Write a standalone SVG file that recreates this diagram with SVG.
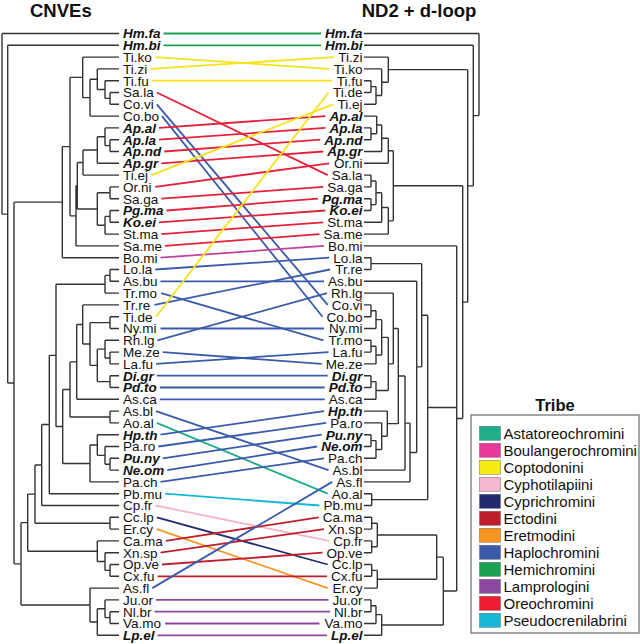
<svg xmlns="http://www.w3.org/2000/svg" width="640" height="644" viewBox="0 0 640 644">
<style>
.t{font-family:"Liberation Sans",Arial,sans-serif;font-size:13.5px;fill:#111}
.b{font-weight:bold;font-style:italic}
.r{text-anchor:end}
.tree{fill:none;stroke:#333;stroke-width:1.4}
.c line{stroke-width:1.8}
.hd{font-family:"Liberation Sans",Arial,sans-serif;font-weight:bold;fill:#111}
.lg{font-family:"Liberation Sans",Arial,sans-serif;font-size:15px;fill:#111}
.sw{stroke:#555;stroke-width:0.4}
</style>
<rect width="640" height="644" fill="#fff"/>
<text class="hd" x="30" y="16.8" font-size="18.5">CNVEs</text>
<text class="hd" x="361.7" y="16.8" font-size="18.5">ND2 + d-loop</text>

<g id="left-tree">
<path class="tree" d="M2 33.5V214.15M2 33.5H119M2 214.15H7.7
M7.7 45.3V383M7.7 45.3H119M7.7 383H14
M14 202.15V563.86M14 202.15H62.3M14 563.86H21
M62.3 146.6V257.7M62.3 146.6H70M62.3 257.7H119
M70 77.38V215.85M70 77.38H82.7M70 215.85H76
M82.7 57.1V97.66M82.7 57.1H119M82.7 97.66H90
M90 79.23V116.1M90 79.23H97.3M90 116.1H119
M97.3 68.9V89.55M97.3 68.9H119M97.3 89.55H105
M105 80.7V98.4M105 80.7H119M105 98.4H110
M110 92.5V104.3M110 92.5H119M110 104.3H119
M76 185.8V245.9M76 185.8H77.3M76 245.9H119
M77.3 162.56V209.03M77.3 162.56H83M77.3 209.03H97.3
M83 150.03V175.1M83 150.03H97.3M83 175.1H119
M97.3 136.75V163.3M97.3 136.75H105M97.3 163.3H119
M105 127.9V145.6M105 127.9H119M105 145.6H110
M110 139.7V151.5M110 139.7H119M110 151.5H119
M97.3 192.8V225.25M97.3 192.8H110M97.3 225.25H105
M110 186.9V198.7M110 186.9H119M110 198.7H119
M105 216.4V234.1M105 216.4H110M105 234.1H119
M110 210.5V222.3M110 210.5H119M110 222.3H119
M21 522.66V605.06M21 522.66H27.7M21 605.06H90
M27.7 494.1V551.23M27.7 494.1H35M27.7 551.23H97.3
M35 465.01V523.2M35 465.01H41.7M35 523.2H110
M41.7 424.53V505.5M41.7 424.53H49.3M41.7 505.5H119
M49.3 355.35V493.7M49.3 355.35H56M49.3 493.7H119
M56 284.25V426.45M56 284.25H105M56 426.45H62.7
M105 275.4V293.1M105 275.4H110M105 293.1H119
M110 269.5V281.3M110 269.5H119M110 281.3H119
M62.7 389.44V463.46M62.7 389.44H70M62.7 463.46H90
M70 361.88V417M70 361.88H76.7M70 417H110
M110 411.1V422.9M110 411.1H119M110 422.9H119
M76.7 324.45V399.3M76.7 324.45H82.7M76.7 399.3H119
M82.7 304.9V343.99M82.7 304.9H119M82.7 343.99H90
M90 322.6V365.38M90 322.6H110M90 365.38H97.3
M110 316.7V328.5M110 316.7H119M110 328.5H119
M97.3 349.15V381.6M97.3 349.15H105M97.3 381.6H110
M105 340.3V358M105 340.3H119M105 358H110
M110 352.1V363.9M110 352.1H119M110 363.9H119
M110 375.7V387.5M110 375.7H119M110 387.5H119
M90 445.03V481.9M90 445.03H97.3M90 481.9H119
M97.3 434.7V455.35M97.3 434.7H119M97.3 455.35H105
M105 446.5V464.2M105 446.5H119M105 464.2H110
M110 458.3V470.1M110 458.3H119M110 470.1H119
M110 517.3V529.1M110 517.3H119M110 529.1H119
M97.3 540.9V561.55M97.3 540.9H119M97.3 561.55H105
M105 552.7V570.4M105 552.7H119M105 570.4H110
M110 564.5V576.3M110 564.5H119M110 576.3H119
M90 588.1V622.03M90 588.1H119M90 622.03H97.3
M97.3 608.75V635.3M97.3 608.75H105M97.3 635.3H119
M105 599.9V617.6M105 599.9H119M105 617.6H110
M110 611.7V623.5M110 611.7H119M110 623.5H119"/>
</g>

<g id="right-tree">
<path class="tree" d="M479 33.5V115.6M479 33.5H364M479 115.6H473.3
M473.3 45.3V185.89M473.3 45.3H364M473.3 185.89H467.7
M467.7 69.64V302.14M467.7 69.64H388.3M467.7 302.14H462.7
M388.3 57.1V82.18M388.3 57.1H364M388.3 82.18H381.7
M381.7 68.9V95.45M381.7 68.9H364M381.7 95.45H376
M376 86.6V104.3M376 86.6H371M376 104.3H364
M371 80.7V92.5M371 80.7H364M371 92.5H364
M462.7 185.8V418.48M462.7 185.8H393.3M462.7 418.48H456.7
M393.3 150.76V220.83M393.3 150.76H388.3M393.3 220.83H388.3
M388.3 138.23V163.3M388.3 138.23H381.7M388.3 163.3H364
M381.7 124.95V151.5M381.7 124.95H376.7M381.7 151.5H364
M376.7 116.1V133.8M376.7 116.1H364M376.7 133.8H371
M371 127.9V139.7M371 127.9H364M371 139.7H364
M388.3 207.55V234.1M388.3 207.55H381.7M388.3 234.1H364
M381.7 192.8V222.3M381.7 192.8H376M381.7 222.3H364
M376 181V204.6M376 181H371M376 204.6H371
M371 175.1V186.9M371 175.1H364M371 186.9H364
M371 198.7V210.5M371 198.7H364M371 210.5H364
M456.7 245.9V591.05M456.7 245.9H364M456.7 407.43H427.7M456.7 591.05H443.3
M427.7 315.25V499.6M427.7 315.25H421.7M427.7 499.6H371.7
M371.7 493.7V505.5M371.7 493.7H364M371.7 505.5H364
M421.7 263.6V366.9M421.7 263.6H371M421.7 366.9H416.7
M371 257.7V269.5M371 257.7H364M371 269.5H364
M416.7 281.3V452.49M416.7 281.3H364M416.7 452.49H410
M410 423.09V481.9M410 423.09H405M410 481.9H364
M405 376.07V470.1M405 376.07H398.3M405 470.1H364
M398.3 328.5V423.64M398.3 328.5H393.3M398.3 423.64H387.3
M393.3 293.1V363.9M393.3 293.1H364M393.3 363.9H388.3
M388.3 337.35V390.45M388.3 337.35H381.7M388.3 390.45H376
M381.7 319.65V355.05M381.7 319.65H376M381.7 355.05H376
M376 310.8V328.5M376 310.8H371M376 328.5H364
M371 304.9V316.7M371 304.9H364M371 316.7H364
M376 346.2V363.9M376 346.2H371M376 363.9H364
M371 340.3V352.1M371 340.3H364M371 352.1H364
M376 381.6V399.3M376 381.6H371M376 399.3H364
M371 375.7V387.5M371 375.7H364M371 387.5H364
M387.3 411.1V436.18M387.3 411.1H364M387.3 436.18H381.7
M381.7 422.9V449.45M381.7 422.9H364M381.7 449.45H376
M376 440.6V458.3M376 440.6H371M376 458.3H364
M371 434.7V446.5M371 434.7H364M371 446.5H364
M443.3 557.13V624.98M443.3 557.13H436.7M443.3 624.98H381.7
M436.7 535V579.25M436.7 535H377.3M436.7 579.25H377.3
M377.3 523.2V546.8M377.3 523.2H371.7M377.3 546.8H371.7
M371.7 517.3V529.1M371.7 517.3H364M371.7 529.1H364
M371.7 540.9V552.7M371.7 540.9H364M371.7 552.7H364
M377.3 570.4V588.1M377.3 570.4H371.7M377.3 588.1H364
M371.7 564.5V576.3M371.7 564.5H364M371.7 576.3H364
M381.7 614.65V635.3M381.7 614.65H376M381.7 635.3H364
M376 605.8V623.5M376 605.8H371M376 623.5H364
M371 599.9V611.7M371 599.9H364M371 611.7H364"/>
</g>

<g id="connectors" class="c">
<line x1="163.5" y1="33.5" x2="321" y2="33.5" stroke="#1aa152"/>
<line x1="163.5" y1="45.3" x2="321" y2="45.3" stroke="#1aa152"/>
<line x1="155.3" y1="57.1" x2="329.2" y2="68.9" stroke="#f5e31b"/>
<line x1="150.7" y1="68.9" x2="333.8" y2="57.1" stroke="#f5e31b"/>
<line x1="152.3" y1="80.7" x2="332.2" y2="80.7" stroke="#f5e31b"/>
<line x1="156.8" y1="92.5" x2="327.7" y2="175.1" stroke="#e3213a"/>
<line x1="156.8" y1="104.3" x2="327.7" y2="304.9" stroke="#3a5ba9"/>
<line x1="162" y1="116.1" x2="322.5" y2="316.7" stroke="#3a5ba9"/>
<line x1="159" y1="127.9" x2="325.5" y2="116.1" stroke="#e3213a"/>
<line x1="159" y1="139.7" x2="325.5" y2="127.9" stroke="#e3213a"/>
<line x1="164.2" y1="151.5" x2="320.3" y2="139.7" stroke="#e3213a"/>
<line x1="161.2" y1="163.3" x2="323.3" y2="151.5" stroke="#e3213a"/>
<line x1="151.5" y1="175.1" x2="333" y2="104.3" stroke="#f5e31b"/>
<line x1="155.3" y1="186.9" x2="329.2" y2="163.3" stroke="#e3213a"/>
<line x1="161.3" y1="198.7" x2="323.2" y2="186.9" stroke="#e3213a"/>
<line x1="166.5" y1="210.5" x2="318" y2="198.7" stroke="#e3213a"/>
<line x1="159" y1="222.3" x2="325.5" y2="210.5" stroke="#e3213a"/>
<line x1="161.3" y1="234.1" x2="323.2" y2="222.3" stroke="#e3213a"/>
<line x1="165" y1="245.9" x2="319.5" y2="234.1" stroke="#e3213a"/>
<line x1="160.5" y1="257.7" x2="324" y2="245.9" stroke="#c2439f"/>
<line x1="155.3" y1="269.5" x2="329.2" y2="257.7" stroke="#3a5ba9"/>
<line x1="160.5" y1="281.3" x2="324" y2="281.3" stroke="#3a5ba9"/>
<line x1="161.2" y1="293.1" x2="323.3" y2="340.3" stroke="#3a5ba9"/>
<line x1="154.5" y1="304.9" x2="330" y2="269.5" stroke="#3a5ba9"/>
<line x1="156" y1="316.7" x2="328.5" y2="92.5" stroke="#f5e31b"/>
<line x1="160.5" y1="328.5" x2="324" y2="328.5" stroke="#3a5ba9"/>
<line x1="157.5" y1="340.3" x2="327" y2="293.1" stroke="#3a5ba9"/>
<line x1="162.8" y1="352.1" x2="321.7" y2="363.9" stroke="#3a5ba9"/>
<line x1="156" y1="363.9" x2="328.5" y2="352.1" stroke="#3a5ba9"/>
<line x1="156.8" y1="375.7" x2="327.7" y2="375.7" stroke="#3a5ba9"/>
<line x1="159.8" y1="387.5" x2="324.7" y2="387.5" stroke="#3a5ba9"/>
<line x1="159.8" y1="399.3" x2="324.7" y2="399.3" stroke="#3a5ba9"/>
<line x1="156" y1="411.1" x2="328.5" y2="470.1" stroke="#3a5ba9"/>
<line x1="156.8" y1="422.9" x2="327.7" y2="493.7" stroke="#1fae87"/>
<line x1="160.5" y1="434.7" x2="324" y2="411.1" stroke="#3a5ba9"/>
<line x1="158.3" y1="446.5" x2="326.2" y2="422.9" stroke="#3a5ba9"/>
<line x1="162.8" y1="458.3" x2="321.7" y2="434.7" stroke="#3a5ba9"/>
<line x1="167.3" y1="470.1" x2="317.2" y2="446.5" stroke="#3a5ba9"/>
<line x1="160.5" y1="481.9" x2="324" y2="458.3" stroke="#3a5ba9"/>
<line x1="165" y1="493.7" x2="319.5" y2="505.5" stroke="#15b8d6"/>
<line x1="155.3" y1="505.5" x2="329.2" y2="540.9" stroke="#f5b4cc"/>
<line x1="156.8" y1="517.3" x2="327.7" y2="564.5" stroke="#232b6e"/>
<line x1="156.8" y1="529.1" x2="327.7" y2="588.1" stroke="#f7961f"/>
<line x1="165.8" y1="540.9" x2="318.7" y2="517.3" stroke="#bf1e2d"/>
<line x1="160.5" y1="552.7" x2="324" y2="529.1" stroke="#bf1e2d"/>
<line x1="162" y1="564.5" x2="322.5" y2="552.7" stroke="#bf1e2d"/>
<line x1="157.5" y1="576.3" x2="327" y2="576.3" stroke="#bf1e2d"/>
<line x1="152.3" y1="588.1" x2="332.2" y2="481.9" stroke="#3a5ba9"/>
<line x1="156" y1="599.9" x2="328.5" y2="599.9" stroke="#8b48a0"/>
<line x1="154.5" y1="611.7" x2="330" y2="611.7" stroke="#8b48a0"/>
<line x1="165" y1="623.5" x2="319.5" y2="623.5" stroke="#8b48a0"/>
<line x1="157.5" y1="635.3" x2="327" y2="635.3" stroke="#8b48a0"/>
</g>

<g id="left-labels" class="t">
<g id="L-Hm.fa"><text class="b" x="123" y="38.3">Hm.fa</text></g>
<g id="L-Hm.bi"><text class="b" x="123" y="50.1">Hm.bi</text></g>
<g id="L-Ti.ko"><text x="123" y="61.9">Ti.ko</text></g>
<g id="L-Ti.zi"><text x="123" y="73.7">Ti.zi</text></g>
<g id="L-Ti.fu"><text x="123" y="85.5">Ti.fu</text></g>
<g id="L-Sa.la"><text x="123" y="97.3">Sa.la</text></g>
<g id="L-Co.vi"><text x="123" y="109.1">Co.vi</text></g>
<g id="L-Co.bo"><text x="123" y="120.9">Co.bo</text></g>
<g id="L-Ap.al"><text class="b" x="123" y="132.7">Ap.al</text></g>
<g id="L-Ap.la"><text class="b" x="123" y="144.5">Ap.la</text></g>
<g id="L-Ap.nd"><text class="b" x="123" y="156.3">Ap.nd</text></g>
<g id="L-Ap.gr"><text class="b" x="123" y="168.1">Ap.gr</text></g>
<g id="L-Ti.ej"><text x="123" y="179.9">Ti.ej</text></g>
<g id="L-Or.ni"><text x="123" y="191.7">Or.ni</text></g>
<g id="L-Sa.ga"><text x="123" y="203.5">Sa.ga</text></g>
<g id="L-Pg.ma"><text class="b" x="123" y="215.3">Pg.ma</text></g>
<g id="L-Ko.ei"><text class="b" x="123" y="227.1">Ko.ei</text></g>
<g id="L-St.ma"><text x="123" y="238.9">St.ma</text></g>
<g id="L-Sa.me"><text x="123" y="250.7">Sa.me</text></g>
<g id="L-Bo.mi"><text x="123" y="262.5">Bo.mi</text></g>
<g id="L-Lo.la"><text x="123" y="274.3">Lo.la</text></g>
<g id="L-As.bu"><text x="123" y="286.1">As.bu</text></g>
<g id="L-Tr.mo"><text x="123" y="297.9">Tr.mo</text></g>
<g id="L-Tr.re"><text x="123" y="309.7">Tr.re</text></g>
<g id="L-Ti.de"><text x="123" y="321.5">Ti.de</text></g>
<g id="L-Ny.mi"><text x="123" y="333.3">Ny.mi</text></g>
<g id="L-Rh.lg"><text x="123" y="345.1">Rh.lg</text></g>
<g id="L-Me.ze"><text x="123" y="356.9">Me.ze</text></g>
<g id="L-La.fu"><text x="123" y="368.7">La.fu</text></g>
<g id="L-Di.gr"><text class="b" x="123" y="380.5">Di.gr</text></g>
<g id="L-Pd.to"><text class="b" x="123" y="392.3">Pd.to</text></g>
<g id="L-As.ca"><text x="123" y="404.1">As.ca</text></g>
<g id="L-As.bl"><text x="123" y="415.9">As.bl</text></g>
<g id="L-Ao.al"><text x="123" y="427.7">Ao.al</text></g>
<g id="L-Hp.th"><text class="b" x="123" y="439.5">Hp.th</text></g>
<g id="L-Pa.ro"><text x="123" y="451.3">Pa.ro</text></g>
<g id="L-Pu.ny"><text class="b" x="123" y="463.1">Pu.ny</text></g>
<g id="L-Ne.om"><text class="b" x="123" y="474.9">Ne.om</text></g>
<g id="L-Pa.ch"><text x="123" y="486.7">Pa.ch</text></g>
<g id="L-Pb.mu"><text x="123" y="498.5">Pb.mu</text></g>
<g id="L-Cp.fr"><text x="123" y="510.3">Cp.fr</text></g>
<g id="L-Cc.lp"><text x="123" y="522.1">Cc.lp</text></g>
<g id="L-Er.cy"><text x="123" y="533.9">Er.cy</text></g>
<g id="L-Ca.ma"><text x="123" y="545.7">Ca.ma</text></g>
<g id="L-Xn.sp"><text x="123" y="557.5">Xn.sp</text></g>
<g id="L-Op.ve"><text x="123" y="569.3">Op.ve</text></g>
<g id="L-Cx.fu"><text x="123" y="581.1">Cx.fu</text></g>
<g id="L-As.fl"><text x="123" y="592.9">As.fl</text></g>
<g id="L-Ju.or"><text x="123" y="604.7">Ju.or</text></g>
<g id="L-Nl.br"><text x="123" y="616.5">Nl.br</text></g>
<g id="L-Va.mo"><text x="123" y="628.3">Va.mo</text></g>
<g id="L-Lp.el"><text class="b" x="123" y="640.1">Lp.el</text></g>
</g>

<g id="right-labels" class="t r">
<g id="R-Hm.fa"><text class="b" x="362.5" y="38.3">Hm.fa</text></g>
<g id="R-Hm.bi"><text class="b" x="362.5" y="50.1">Hm.bi</text></g>
<g id="R-Ti.zi"><text x="362.5" y="61.9">Ti.zi</text></g>
<g id="R-Ti.ko"><text x="362.5" y="73.7">Ti.ko</text></g>
<g id="R-Ti.fu"><text x="362.5" y="85.5">Ti.fu</text></g>
<g id="R-Ti.de"><text x="362.5" y="97.3">Ti.de</text></g>
<g id="R-Ti.ej"><text x="362.5" y="109.1">Ti.ej</text></g>
<g id="R-Ap.al"><text class="b" x="362.5" y="120.9">Ap.al</text></g>
<g id="R-Ap.la"><text class="b" x="362.5" y="132.7">Ap.la</text></g>
<g id="R-Ap.nd"><text class="b" x="362.5" y="144.5">Ap.nd</text></g>
<g id="R-Ap.gr"><text class="b" x="362.5" y="156.3">Ap.gr</text></g>
<g id="R-Or.ni"><text x="362.5" y="168.1">Or.ni</text></g>
<g id="R-Sa.la"><text x="362.5" y="179.9">Sa.la</text></g>
<g id="R-Sa.ga"><text x="362.5" y="191.7">Sa.ga</text></g>
<g id="R-Pg.ma"><text class="b" x="362.5" y="203.5">Pg.ma</text></g>
<g id="R-Ko.ei"><text class="b" x="362.5" y="215.3">Ko.ei</text></g>
<g id="R-St.ma"><text x="362.5" y="227.1">St.ma</text></g>
<g id="R-Sa.me"><text x="362.5" y="238.9">Sa.me</text></g>
<g id="R-Bo.mi"><text x="362.5" y="250.7">Bo.mi</text></g>
<g id="R-Lo.la"><text x="362.5" y="262.5">Lo.la</text></g>
<g id="R-Tr.re"><text x="362.5" y="274.3">Tr.re</text></g>
<g id="R-As.bu"><text x="362.5" y="286.1">As.bu</text></g>
<g id="R-Rh.lg"><text x="362.5" y="297.9">Rh.lg</text></g>
<g id="R-Co.vi"><text x="362.5" y="309.7">Co.vi</text></g>
<g id="R-Co.bo"><text x="362.5" y="321.5">Co.bo</text></g>
<g id="R-Ny.mi"><text x="362.5" y="333.3">Ny.mi</text></g>
<g id="R-Tr.mo"><text x="362.5" y="345.1">Tr.mo</text></g>
<g id="R-La.fu"><text x="362.5" y="356.9">La.fu</text></g>
<g id="R-Me.ze"><text x="362.5" y="368.7">Me.ze</text></g>
<g id="R-Di.gr"><text class="b" x="362.5" y="380.5">Di.gr</text></g>
<g id="R-Pd.to"><text class="b" x="362.5" y="392.3">Pd.to</text></g>
<g id="R-As.ca"><text x="362.5" y="404.1">As.ca</text></g>
<g id="R-Hp.th"><text class="b" x="362.5" y="415.9">Hp.th</text></g>
<g id="R-Pa.ro"><text x="362.5" y="427.7">Pa.ro</text></g>
<g id="R-Pu.ny"><text class="b" x="362.5" y="439.5">Pu.ny</text></g>
<g id="R-Ne.om"><text class="b" x="362.5" y="451.3">Ne.om</text></g>
<g id="R-Pa.ch"><text x="362.5" y="463.1">Pa.ch</text></g>
<g id="R-As.bl"><text x="362.5" y="474.9">As.bl</text></g>
<g id="R-As.fl"><text x="362.5" y="486.7">As.fl</text></g>
<g id="R-Ao.al"><text x="362.5" y="498.5">Ao.al</text></g>
<g id="R-Pb.mu"><text x="362.5" y="510.3">Pb.mu</text></g>
<g id="R-Ca.ma"><text x="362.5" y="522.1">Ca.ma</text></g>
<g id="R-Xn.sp"><text x="362.5" y="533.9">Xn.sp</text></g>
<g id="R-Cp.fr"><text x="362.5" y="545.7">Cp.fr</text></g>
<g id="R-Op.ve"><text x="362.5" y="557.5">Op.ve</text></g>
<g id="R-Cc.lp"><text x="362.5" y="569.3">Cc.lp</text></g>
<g id="R-Cx.fu"><text x="362.5" y="581.1">Cx.fu</text></g>
<g id="R-Er.cy"><text x="362.5" y="592.9">Er.cy</text></g>
<g id="R-Ju.or"><text x="362.5" y="604.7">Ju.or</text></g>
<g id="R-Nl.br"><text x="362.5" y="616.5">Nl.br</text></g>
<g id="R-Va.mo"><text x="362.5" y="628.3">Va.mo</text></g>
<g id="R-Lp.el"><text class="b" x="362.5" y="640.1">Lp.el</text></g>
</g>

<g id="legend">
<text class="hd" x="555" y="411" font-size="16.5" text-anchor="middle">Tribe</text>
<rect x="471" y="415" width="168" height="218" fill="#fff" stroke="#777" stroke-width="1.3"/>
<rect class="sw" x="479.5" y="426.3" width="21" height="14" fill="#1fae87"/>
<rect class="sw" x="479.5" y="443.3" width="21" height="14" fill="#e8399a"/>
<rect class="sw" x="479.5" y="460.3" width="21" height="14" fill="#f5ec14"/>
<rect class="sw" x="479.5" y="477.3" width="21" height="14" fill="#f7b6cf"/>
<rect class="sw" x="479.5" y="494.3" width="21" height="14" fill="#232b6e"/>
<rect class="sw" x="479.5" y="511.3" width="21" height="14" fill="#bf1e2d"/>
<rect class="sw" x="479.5" y="528.3" width="21" height="14" fill="#f7961f"/>
<rect class="sw" x="479.5" y="545.3" width="21" height="14" fill="#3a5ba9"/>
<rect class="sw" x="479.5" y="562.3" width="21" height="14" fill="#1aa152"/>
<rect class="sw" x="479.5" y="579.3" width="21" height="14" fill="#8b48a0"/>
<rect class="sw" x="479.5" y="596.3" width="21" height="14" fill="#ee1c30"/>
<rect class="sw" x="479.5" y="613.3" width="21" height="14" fill="#15b8d6"/>
<text class="lg" x="503.5" y="438.6">Astatoreochromini</text>
<text class="lg" x="503.5" y="455.6">Boulangerochromini</text>
<text class="lg" x="503.5" y="472.6">Coptodonini</text>
<text class="lg" x="503.5" y="489.6">Cyphotilapiini</text>
<text class="lg" x="503.5" y="506.6">Cyprichromini</text>
<text class="lg" x="503.5" y="523.6">Ectodini</text>
<text class="lg" x="503.5" y="540.6">Eretmodini</text>
<text class="lg" x="503.5" y="557.6">Haplochromini</text>
<text class="lg" x="503.5" y="574.6">Hemichromini</text>
<text class="lg" x="503.5" y="591.6">Lamprologini</text>
<text class="lg" x="503.5" y="608.6">Oreochromini</text>
<text class="lg" x="503.5" y="625.6">Pseudocrenilabrini</text>
</g>
</svg>
